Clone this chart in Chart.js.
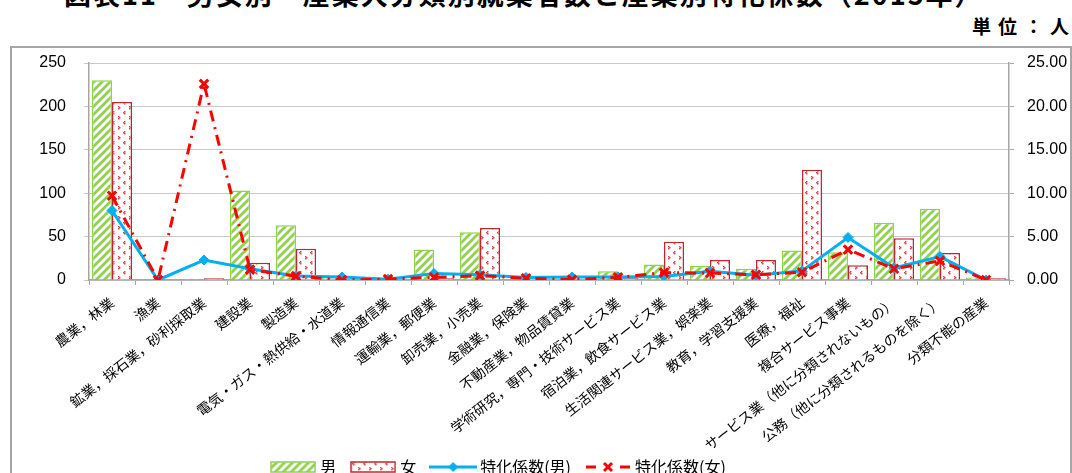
<!DOCTYPE html>
<html>
<head>
<meta charset="utf-8">
<script src="https://cdn.jsdelivr.net/npm/chart.js@4"></script>
<style>
  html, body { margin: 0; padding: 0; background: #fff; overflow: hidden; }
  body { width: 1072px; height: 473px; position: relative; }
  #title {
    position: absolute; left: 64px; top: -21px; white-space: nowrap; letter-spacing: 2px;
    font: bold 27px "Noto Sans CJK JP", sans-serif; line-height: 30px; color: #000;
  }
  #unit {
    position: absolute; right: -4px; top: 13px; white-space: nowrap; letter-spacing: 7px;
    font: bold 19px "Noto Sans CJK JP", sans-serif; line-height: 26px; color: #000;
  }
  #frame {
    position: absolute; left: 10px; top: 46px; width: 1058px; height: 520px;
    border: 2px solid #A6A6A6;
  }
  #chart { position: absolute; left: 0; top: 0; }
</style>
</head>
<body>
<div id="title">図表11　男女別・産業大分類別就業者数と産業別特化係数（2015年）</div>
<div id="unit">単位：人</div>
<div id="frame"></div>
<canvas id="chart" width="1072" height="485"></canvas>
<script>
// industry categories (x axis)
const categories = [
  "農業，林業", "漁業", "鉱業，採石業，砂利採取業", "建設業", "製造業",
  "電気・ガス・熱供給・水道業", "情報通信業", "運輸業，郵便業", "卸売業，小売業", "金融業，保険業",
  "不動産業，物品賃貸業", "学術研究，専門・技術サービス業", "宿泊業，飲食サービス業", "生活関連サービス業，娯楽業", "教育，学習支援業",
  "医療，福祉", "複合サービス事業", "サービス業（他に分類されないもの）", "公務（他に分類されるものを除く）", "分類不能の産業"
];

// workers (left axis, persons)
const maleWorkers   = [230, 0, 1, 103, 63, 3, 1, 35, 55, 1, 1, 10, 18, 16, 13, 34, 32, 66, 82, 3];
const femaleWorkers = [205, 0, 2, 20, 36, 0, 0, 2, 60, 5, 1, 2, 44, 23, 23, 127, 17, 48, 31, 2];

// specialization coefficient (right axis)
const maleCoef   = [8.0, 0.0, 2.3, 1.3, 0.45, 0.35, 0.1, 0.75, 0.6, 0.3, 0.35, 0.35, 0.4, 1.0, 0.55, 1.05, 4.9, 1.4, 2.7, 0.0];
const femaleCoef = [9.7, 0.0, 22.6, 1.2, 0.45, 0.0, 0.1, 0.3, 0.5, 0.2, 0.05, 0.3, 0.85, 0.8, 0.6, 0.9, 3.5, 1.3, 2.2, 0.0];

// axis ticks
const leftTicks  = { min: 0, max: 250, step: 50 };
const rightTicks = { min: 0, max: 25, step: 5 };

const legendNames = ["男", "女", "特化係数(男)", "特化係数(女)"];

// ------------------------------
// Fill patterns
// ------------------------------
function hatchPattern() {
  const c = document.createElement("canvas");
  c.width = 8; c.height = 8;
  const g = c.getContext("2d");
  g.fillStyle = "#fff"; g.fillRect(0, 0, 8, 8);
  g.strokeStyle = "#92D050"; g.lineWidth = 2.8;
  g.beginPath();
  g.moveTo(-2, 10); g.lineTo(10, -2);
  g.moveTo(-6, 6); g.lineTo(6, -6);
  g.moveTo(2, 14); g.lineTo(14, 2);
  g.stroke();
  return g.createPattern(c, "repeat");
}

function dotPattern() {
  const c = document.createElement("canvas");
  c.width = 11; c.height = 10;
  const g = c.getContext("2d");
  g.fillStyle = "#fff"; g.fillRect(0, 0, 11, 10);
  g.fillStyle = "#E0474C";
  [[3, 1], [2, 2], [3, 3], [8, 6], [9, 7], [8, 8]].forEach(([x, y]) => g.fillRect(x, y, 1.5, 1.5));
  return g.createPattern(c, "repeat");
}

const maleFill = hatchPattern();
const femaleFill = dotPattern();

// ------------------------------
// Legend icons
// ------------------------------
function barIcon(fill, border) {
  const c = document.createElement("canvas");
  c.width = 46; c.height = 12;
  const g = c.getContext("2d");
  g.fillStyle = fill; g.fillRect(1, 1, 44, 10);
  g.strokeStyle = border; g.lineWidth = 1.5; g.strokeRect(1, 1, 44, 10);
  return c;
}

function lineIcon(kind) {
  const c = document.createElement("canvas");
  c.width = 48; c.height = 14;
  const g = c.getContext("2d");
  if (kind === "male") {
    g.strokeStyle = "#00B0F0"; g.lineWidth = 3;
    g.beginPath(); g.moveTo(0, 7); g.lineTo(48, 7); g.stroke();
    g.fillStyle = "#00B0F0";
    g.beginPath(); g.moveTo(24, 2); g.lineTo(29, 7); g.lineTo(24, 12); g.lineTo(19, 7); g.closePath(); g.fill();
  } else {
    g.strokeStyle = "#FF0000"; g.lineWidth = 3;
    g.beginPath(); g.moveTo(2, 7); g.lineTo(12, 7); g.moveTo(36, 7); g.lineTo(46, 7); g.stroke();
    g.beginPath(); g.moveTo(20, 3); g.lineTo(28, 11); g.moveTo(28, 3); g.lineTo(20, 11); g.stroke();
  }
  return c;
}

const legendIcons = [barIcon(maleFill, "#92D050"), barIcon(femaleFill, "#C0272D"), lineIcon("male"), lineIcon("female")];

// ------------------------------
// Chart
// ------------------------------
// nudge the legend left and let long rotated labels run past the axis box
const layoutTweaks = {
  id: "layoutTweaks",
  afterLayout(chart) {
    chart.legend.left -= 36;
    chart.legend.right -= 36;
    chart.scales.x.bottom = chart.height;
  }
};

const ctx = document.getElementById("chart").getContext("2d");

new Chart(ctx, {
  data: {
    labels: categories,
    datasets: [
      { type: "line", label: legendNames[3], data: femaleCoef, yAxisID: "y2", order: 1,
        borderColor: "#FF0000", borderWidth: 3, borderDash: [11, 6, 2, 6],
        pointStyle: "crossRot", pointRadius: 6, pointBorderWidth: 3,
        pointBorderColor: "#FF0000", pointBackgroundColor: "#FF0000", tension: 0 },
      { type: "line", label: legendNames[2], data: maleCoef, yAxisID: "y2", order: 2,
        borderColor: "#00B0F0", borderWidth: 3,
        pointStyle: "rectRot", pointRadius: 5, pointBorderWidth: 1,
        pointBorderColor: "#00B0F0", pointBackgroundColor: "#00B0F0", tension: 0 },
      { type: "bar", label: legendNames[0], data: maleWorkers, yAxisID: "y", order: 3,
        backgroundColor: maleFill, borderColor: "#92D050", borderWidth: 1.5,
        categoryPercentage: 0.87, barPercentage: 1 },
      { type: "bar", label: legendNames[1], data: femaleWorkers, yAxisID: "y", order: 4,
        backgroundColor: femaleFill, borderColor: "#C0272D", borderWidth: 1.5,
        categoryPercentage: 0.87, barPercentage: 1 }
    ]
  },
  options: {
    responsive: false,
    animation: false,
    layout: { padding: { left: 0, right: 0, top: 63, bottom: 0 } },
    plugins: {
      tooltip: { enabled: false },
      legend: {
        position: "bottom",
        labels: {
          usePointStyle: true,
          pointStyleWidth: 38,
          padding: 18,
          color: "#000",
          font: { family: "'Noto Sans CJK JP', sans-serif", size: 16 },
          generateLabels: () => [2, 3, 0, 1].map((di, i) => ({
            text: legendNames[i],
            pointStyle: legendIcons[i],
            fillStyle: "#fff",
            strokeStyle: "#fff",
            lineWidth: 0,
            hidden: false,
            datasetIndex: di,
            fontColor: "#000"
          }))
        }
      }
    },
    scales: {
      x: {
        offset: true,
        grid: { display: true, offset: true, drawOnChartArea: false, drawTicks: true, tickLength: 5, color: "#A6A6A6" },
        border: { color: "#A6A6A6", width: 1.5 },
        ticks: {
          autoSkip: false, minRotation: 38, maxRotation: 38, padding: 9, color: "#000",
          font: { family: "'Noto Sans CJK JP', sans-serif", size: 14 }
        },
        afterFit: s => { s.height = 161; }
      },
      y: {
        position: "left",
        min: leftTicks.min, max: leftTicks.max,
        grid: { color: "#C8C8C8", tickLength: 5 },
        border: { color: "#A6A6A6", width: 1.5 },
        ticks: { stepSize: leftTicks.step, padding: 18, color: "#000",
          font: { family: "'Liberation Sans', sans-serif", size: 16 } },
        afterFit: s => { s.width = 89; }
      },
      y2: {
        position: "right",
        min: rightTicks.min, max: rightTicks.max,
        grid: { drawOnChartArea: false, color: "#A6A6A6", tickLength: 5 },
        border: { color: "#A6A6A6", width: 1.5 },
        ticks: { stepSize: rightTicks.step, padding: 13, color: "#000",
          callback: v => Number(v).toFixed(2),
          font: { family: "'Liberation Sans', sans-serif", size: 16 } },
        afterFit: s => { s.width = 63; }
      }
    }
  },
  plugins: [layoutTweaks]
});
</script>
</body>
</html>
